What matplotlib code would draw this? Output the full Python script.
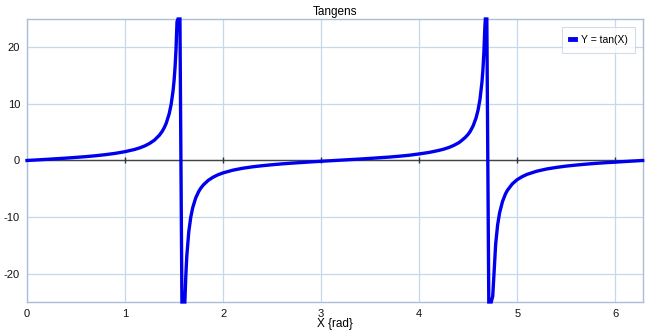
import matplotlib
matplotlib.use("Agg")
import matplotlib.pyplot as plt

plt.rcParams['font.family'] = ['Liberation Sans', 'DejaVu Sans']
plt.rcParams['axes.unicode_minus'] = False

x_vals = [0.0, 0.1, 0.2, 0.3, 0.4, 0.5, 0.6, 0.7, 0.8, 0.9, 1.0, 1.1, 1.15, 1.2, 1.25, 1.3, 1.35, 1.38,
          1.4, 1.42, 1.45, 1.47, 1.49, 1.5, 1.51, 1.52, 1.53,
          1.54, 1.56, 1.58, 1.60, 1.61, 1.62, 1.63, 1.65, 1.67, 1.69, 1.72, 1.75, 1.77, 1.8, 1.85,
          1.9, 1.95, 2.0, 2.1, 2.2, 2.3, 2.4, 2.5,
          2.6, 2.7, 2.8, 2.9, 3.0, 3.1, 3.2, 3.3, 3.4, 3.5, 3.6, 3.7, 3.8, 3.9, 4.0, 4.1, 4.2, 4.25,
          4.3, 4.35, 4.4, 4.42, 4.47, 4.5, 4.52, 4.55, 4.58, 4.6, 4.62, 4.64, 4.65, 4.66, 4.67, 4.675,
          4.69, 4.71, 4.735, 4.75, 4.76, 4.78, 4.8, 4.82, 4.85, 4.88, 4.9, 4.95, 5.0, 5.05, 5.1,
          5.2, 5.3, 5.4, 5.5, 5.6, 5.7, 5.8, 5.9, 6.0, 6.1, 6.2, 6.28]
y_vals = [0.0, 0.10, 0.20, 0.31, 0.42, 0.55, 0.68, 0.84, 1.03, 1.26, 1.56, 1.96, 2.23, 2.57, 3.01, 3.60,
          4.46, 5.18, 5.80, 6.58, 8.24, 9.89, 12.35, 14.10, 16.43, 19.67, 24.5,
          25, 25, -25, -25, -25, -20.3, -16.87, -12.60, -10.05, -8.35, -6.65, -5.52, -4.95, -4.29,
          -3.49, -2.93, -2.51, -2.19, -1.71, -1.37, -1.12, -0.92, -0.75,
          -0.60, -0.47, -0.36, -0.24, -0.14, -0.04, 0.06, 0.16, 0.26, 0.37, 0.49, 0.61, 0.76, 0.93,
          1.16, 1.42, 1.78, 2.00, 2.28, 2.64, 3.10, 3.34, 4.07, 4.64, 5.13, 6.10, 7.51, 8.86, 10.79,
          13.79, 16.0, 19.07, 23.6, 25,
          25, -25, -25, -24.0, -21.0, -14.8, -11.4, -9.26, -7.24, -5.91, -5.27, -4.13, -3.38, -2.86,
          -2.45, -1.89, -1.50, -1.22, -0.99, -0.81, -0.65, -0.51, -0.39, -0.29, -0.18, -0.08, 0.0]

x_ticks = [0, 1, 2, 3, 4, 5, 6]
y_ticks = [-20, -10, 0, 10, 20]
series_label = "Y = tan(X)"
title = "Tangens"
xlabel = "X {rad}"

fig = plt.figure(figsize=(6.49, 3.32), dpi=100)
ax = fig.add_axes([0.0416, 0.0904, 0.9492, 0.8524])
ax.set_xlim(0, 6.2832)
ax.set_ylim(-25, 25)
ax.set_xticks(x_ticks)
ax.set_yticks(y_ticks)
ax.grid(True, color='#c5d9ee', linewidth=0.9)
ax.set_axisbelow(True)
for s in ax.spines.values():
    s.set_color('#a9bfd6')
    s.set_linewidth(1.0)
ax.tick_params(length=0, labelsize=8, colors='#111111', pad=5)

ax.axhline(0, color='#444444', linewidth=1.0, zorder=2)
ax.plot(x_ticks[1:], [0] * (len(x_ticks) - 1), linestyle='none', marker='|',
        markersize=5, color='#333333', markeredgewidth=1.0, zorder=2)

ax.plot(x_vals, y_vals, color='#0000ee', linewidth=2.4, label=series_label, zorder=3,
        solid_joinstyle='miter', clip_on=False)

ax.set_title(title, fontsize=8.5, pad=3)
ax.set_xlabel(xlabel, fontsize=8.5, labelpad=-1)

leg = ax.legend(loc='upper right', fontsize=7.5, frameon=True, fancybox=False,
                handlelength=0.55, handletextpad=0.5, borderpad=0.75,
                bbox_to_anchor=(0.996, 0.99))
leg.get_frame().set_edgecolor('#c8d4e0')
leg.get_frame().set_linewidth(0.8)
for h in leg.get_lines():
    h.set_linewidth(3.5)

fig.savefig("out.png", dpi=100)
